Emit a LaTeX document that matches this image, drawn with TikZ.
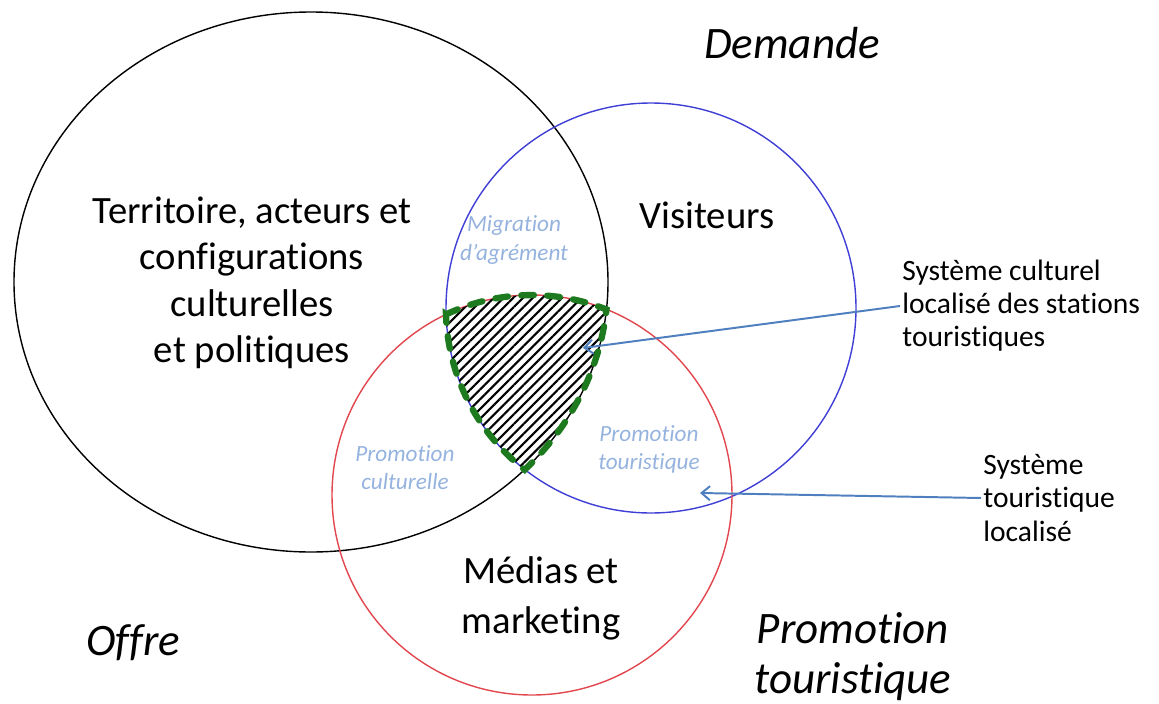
\documentclass[tikz,border=0pt]{standalone}
\usepackage{fontspec}
\setmainfont{Carlito}[Ligatures={TeX,NoCommon}]
\usetikzlibrary{arrows.meta,patterns.meta}
\definecolor{setblue}{HTML}{3F3FD6}
\definecolor{setred}{HTML}{E2474F}
\definecolor{hatchgreen}{HTML}{1E7A1E}
\definecolor{pointerblue}{HTML}{4F7FBF}
\definecolor{softblue}{HTML}{95B3DE}
\tikzset{
  setline/.style={line width=1pt},
  bigtext/.style={font=\fontsize{27.5}{33}\selectfont, align=center},
  poletext/.style={font=\fontsize{32}{35.5}\selectfont\itshape, align=center},
  zonetext/.style={font=\fontsize{16.5}{20}\selectfont\itshape, text=softblue, align=center},
  sidetext/.style={font=\fontsize{21}{23.5}\selectfont, align=left, anchor=west, inner sep=1.5pt},
  pointer/.style={-{Straight Barb[length=6pt,width=10pt]}, line width=1.4pt, pointerblue}
}

\begin{document}
\begin{tikzpicture}[x=0.025cm, y=0.025cm]
  \useasboundingbox (0,0) rectangle (1159,-704);
  % the three sets
  \draw[setline] (311,-282) ellipse [x radius=297, y radius=270];
  \draw[setline, setblue] (651,-308) circle [radius=205];
  \draw[setline, setred] (532,-495) circle [radius=200];
  % hatched core shared by all three
  \draw[pattern={Lines[angle=45,distance=4.9pt,line width=1.5pt]}, draw=hatchgreen, line width=4.5pt, line cap=round, dash pattern=on 9pt off 9.5pt]
    (446.1,-314.4) arc[start angle=115.4, end angle=68.1, radius=200]
    arc[start angle=-5.8, end angle=-44, x radius=297, y radius=270]
    arc[start angle=232, end angle=181.7, radius=205] -- cycle;
  % labels
  \node[bigtext] (territory) at (252,-283) {Territoire, acteurs et\\configurations\\culturelles\\et politiques};
  \node[bigtext] (visitors) at (707,-215) {Visiteurs};
  \node[bigtext, font=\fontsize{27.5}{35.5}\selectfont] (media) at (541,-598) {Médias et\\marketing};
  \node[zonetext] (amenity) at (514,-240) {Migration\\d’agrément};
  \node[zonetext] (culturalpromo) at (405,-468) {Promotion\\culturelle};
  \node[zonetext] (touristpromo) at (649,-449) {Promotion\\touristique};
  \node[poletext] (demand) at (792,-43) {Demande};
  \node[poletext] (supply) at (133,-643) {Offre};
  \node[poletext] (promotion) at (853,-657) {Promotion\\touristique};
  \node[sidetext] (culturalsys) at (900,-306) {Système culturel\\localisé des stations\\touristiques};
  \node[sidetext] (touristsys) at (981,-498) {Système\\touristique\\localisé};
  % pointers
  \coordinate (coretip) at (583,-348);
  \coordinate (ringtip) at (700,-493);
  \draw[pointer] (culturalsys.west) -- (coretip);
  \draw[pointer] (touristsys.west) -- (ringtip);
\end{tikzpicture}
\end{document}
